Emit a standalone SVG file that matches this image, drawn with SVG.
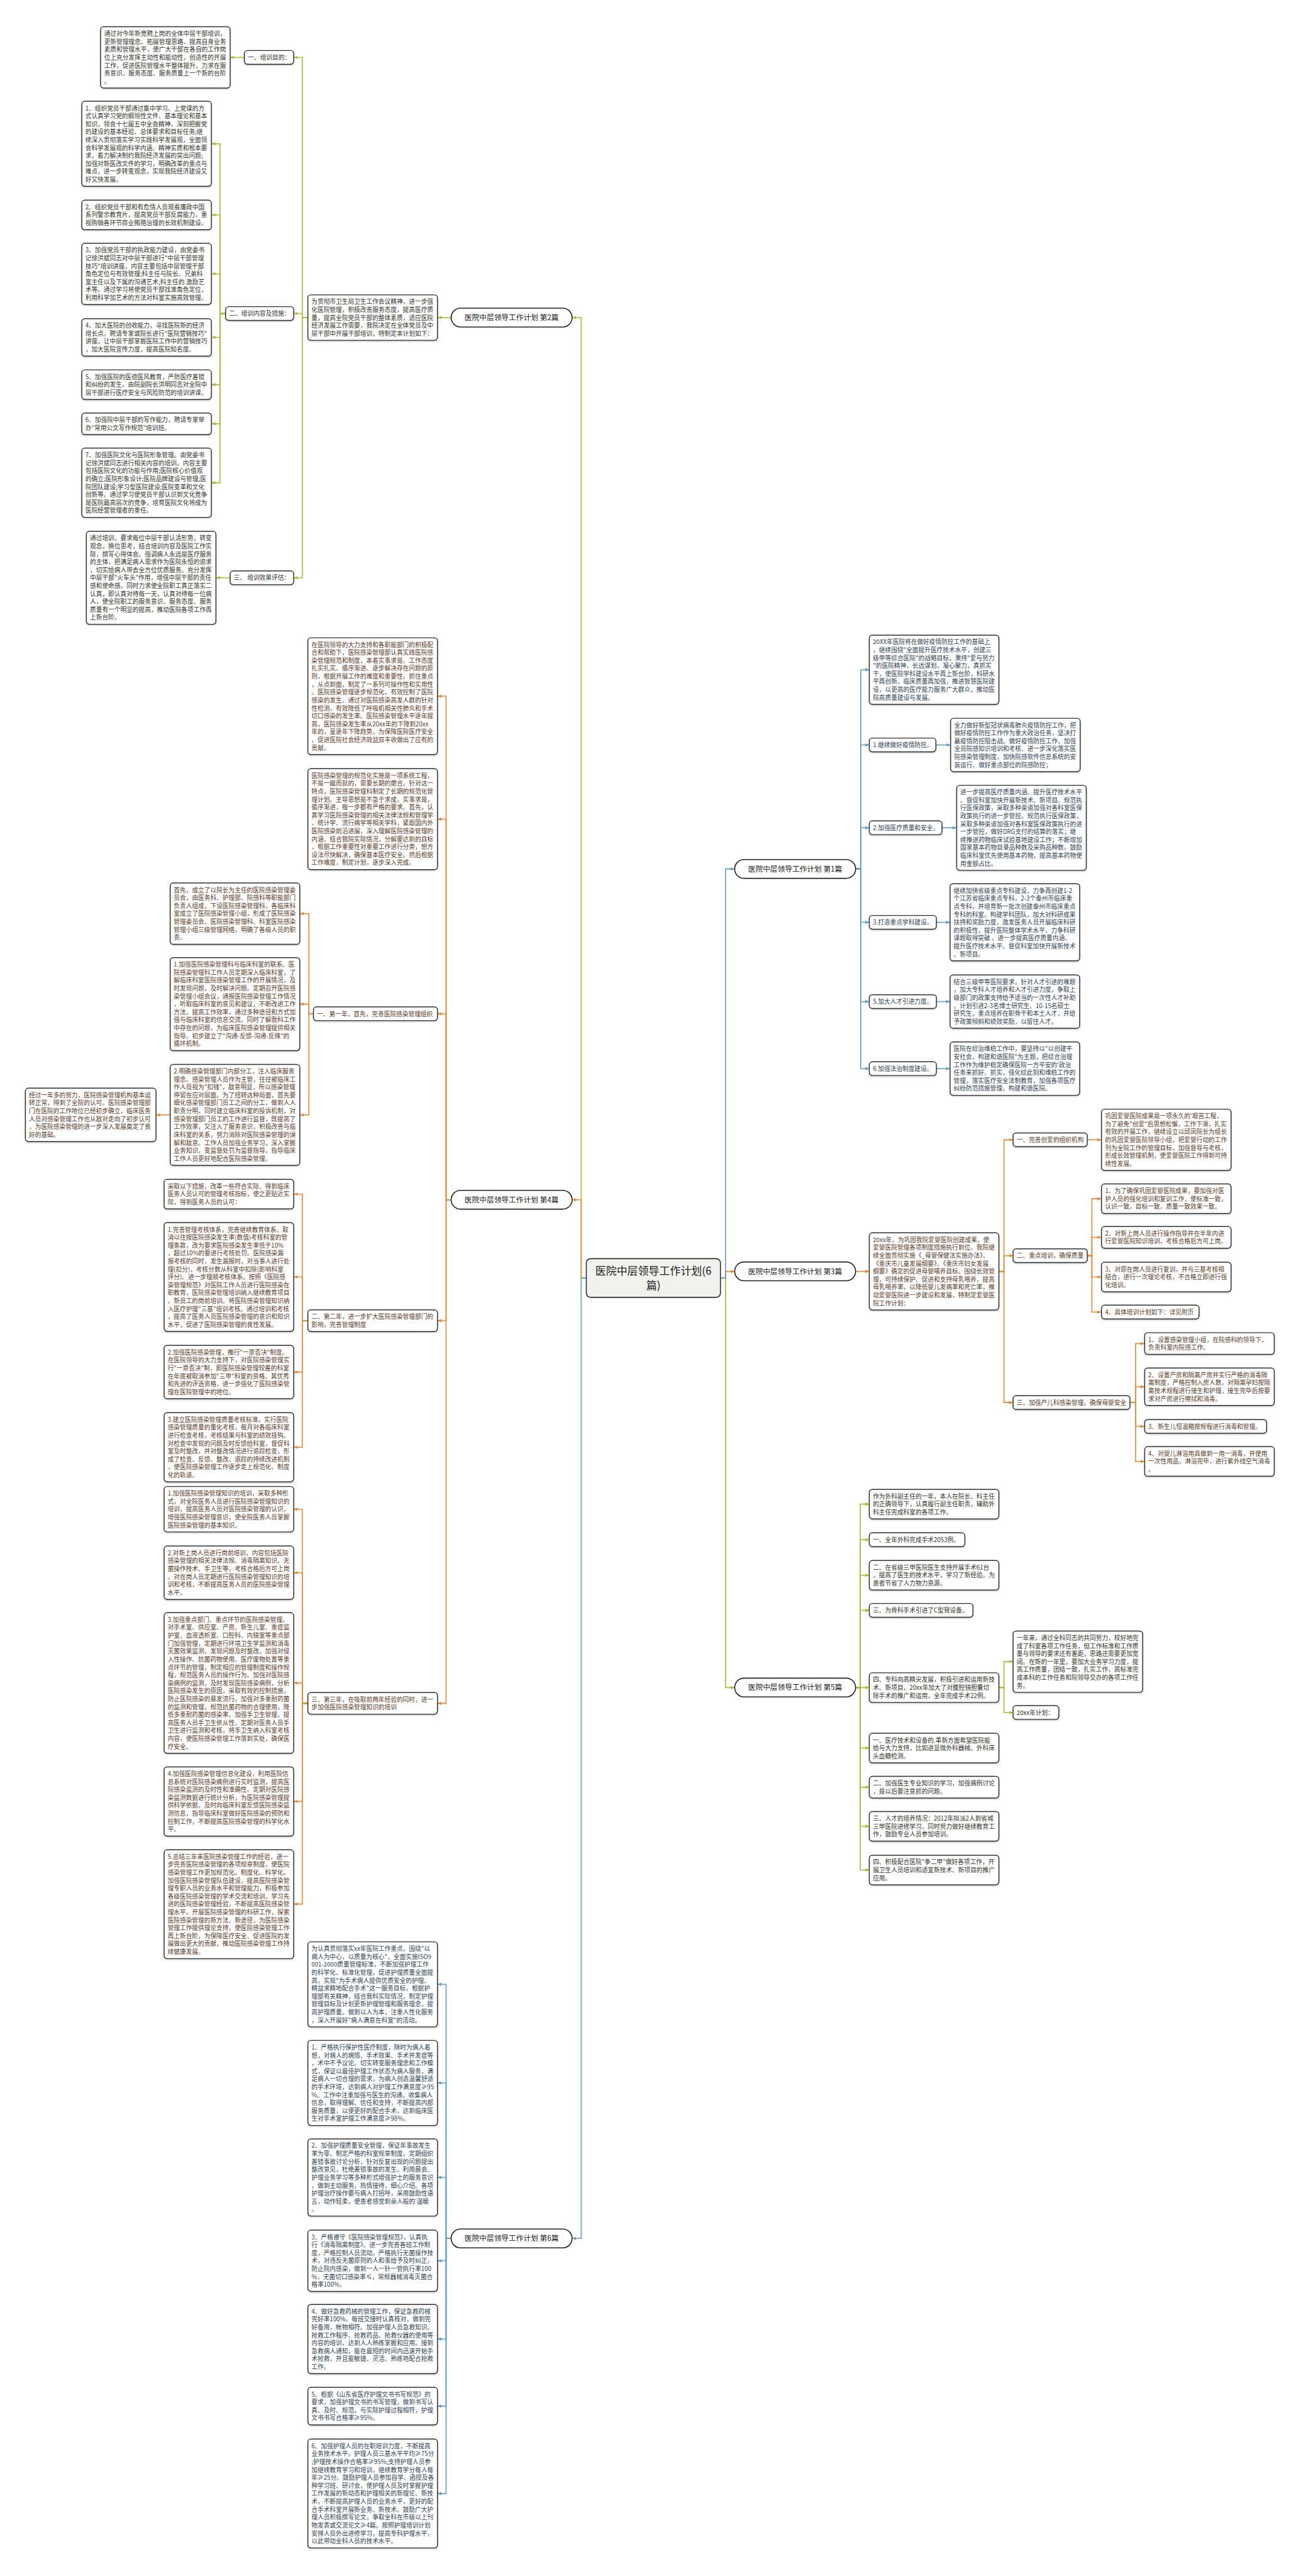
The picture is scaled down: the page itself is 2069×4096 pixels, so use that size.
<svg xmlns="http://www.w3.org/2000/svg" width="2069" height="4096" viewBox="0 0 2069 4096">
<defs>
<style>
.bx{fill:#fff;stroke:#333;stroke-width:1.8;filter:url(#sh)}
.nd{fill:#fff;stroke:#222;stroke-width:2}
.t{font-family:"Noto Sans CJK SC","Noto Sans",sans-serif;font-size:12px}
.c1{fill:#2f4252}
.c2{fill:#34342a}
.c3{fill:#5a3b1f}
.nt{font-family:"Noto Sans CJK SC","Noto Sans",sans-serif;font-size:14.5px;fill:#222;text-anchor:middle}
.ln{fill:none;stroke-width:2}
.lb{stroke:#5e9fc6}
.lg{stroke:#b0b92c}
.lo{stroke:#e98a2f}
</style>
<filter id="sh" x="-5%" y="-5%" width="110%" height="120%"><feDropShadow dx="0" dy="1.5" stdDeviation="1" flood-color="#000" flood-opacity="0.25"/></filter>
<marker id="ab" viewBox="0 0 10 10" refX="10" refY="5" markerWidth="8" markerHeight="8" markerUnits="userSpaceOnUse" orient="auto"><path d="M0,1L10,5L0,9z" fill="#5e9fc6"/></marker>
<marker id="ag" viewBox="0 0 10 10" refX="10" refY="5" markerWidth="8" markerHeight="8" markerUnits="userSpaceOnUse" orient="auto"><path d="M0,1L10,5L0,9z" fill="#b0b92c"/></marker>
<marker id="ao" viewBox="0 0 10 10" refX="10" refY="5" markerWidth="8" markerHeight="8" markerUnits="userSpaceOnUse" orient="auto"><path d="M0,1L10,5L0,9z" fill="#e98a2f"/></marker>
</defs>
<rect width="2069" height="4096" fill="#fff"/>
<g transform="scale(0.808)">
<g id="connectors">
<g class="ln lg" marker-end="url(#ag)">
<path d="M1154,2515H1144V625H1126"/>
<path d="M888,625H861"/>
<path d="M606,625H595V113H578"/>
<path d="M606,625H595V617H578"/>
<path d="M606,625H595V1137H578"/>
<path d="M481,113H453"/>
<path d="M444,617H433V283H416"/>
<path d="M444,617H433V423H416"/>
<path d="M444,617H433V539H416"/>
<path d="M444,617H433V664H416"/>
<path d="M444,617H433V757H416"/>
<path d="M444,617H433V834H416"/>
<path d="M444,617H433V950H416"/>
<path d="M453,1137H425"/>
<path d="M1418,2515H1428V3321H1446"/>
<path d="M1684,3321H1693V2960H1711"/>
<path d="M1684,3321H1693V3030H1711"/>
<path d="M1684,3321H1693V3100H1711"/>
<path d="M1684,3321H1693V3169H1711"/>
<path d="M1684,3321H1711"/>
<path d="M1684,3321H1693V3440H1711"/>
<path d="M1684,3321H1693V3517H1711"/>
<path d="M1684,3321H1693V3594H1711"/>
<path d="M1684,3321H1693V3680H1711"/>
<path d="M1966,3321H1976V3270H1994"/>
<path d="M1966,3321H1976V3370H1994"/>
</g>
<g class="ln lo" marker-end="url(#ao)">
<path d="M1154,2515H1144V2361H1126"/>
<path d="M888,2361H878V1370H861"/>
<path d="M888,2361H878V1612H861"/>
<path d="M888,2361H878V1995H861"/>
<path d="M888,2361H878V2599H861"/>
<path d="M888,2361H878V3352H861"/>
<path d="M617,1995H608V1798H590"/>
<path d="M617,1995H608V1976H590"/>
<path d="M617,1995H608V2194H590"/>
<path d="M335,2194H307"/>
<path d="M606,2599H595V2350H578"/>
<path d="M606,2599H595V2513H578"/>
<path d="M606,2599H595V2700H578"/>
<path d="M606,2599H595V2848H578"/>
<path d="M606,3352H595V2970H578"/>
<path d="M606,3352H595V3095H578"/>
<path d="M606,3352H595V3312H578"/>
<path d="M606,3352H595V3545H578"/>
<path d="M606,3352H595V3747H578"/>
<path d="M1418,2515H1428V2502H1446"/>
<path d="M1684,2502H1711"/>
<path d="M1966,2502H1976V2243H1994"/>
<path d="M1966,2502H1976V2471H1994"/>
<path d="M1966,2502H1976V2760H1994"/>
<path d="M2140,2243H2168"/>
<path d="M2140,2471H2149V2359H2168"/>
<path d="M2140,2471H2149V2435H2168"/>
<path d="M2140,2471H2149V2513H2168"/>
<path d="M2140,2471H2149V2582H2168"/>
<path d="M2224,2760H2235V2644H2253"/>
<path d="M2224,2760H2235V2729H2253"/>
<path d="M2224,2760H2235V2807H2253"/>
<path d="M2224,2760H2235V2876H2253"/>
</g>
<g class="ln lb" marker-end="url(#ab)">
<path d="M1154,2515H1144V4405H1126"/>
<path d="M888,4405H878V3905H861"/>
<path d="M888,4405H878V4099H861"/>
<path d="M888,4405H878V4285H861"/>
<path d="M888,4405H878V4449H861"/>
<path d="M888,4405H878V4603H861"/>
<path d="M888,4405H878V4735H861"/>
<path d="M888,4405H878V4907H861"/>
<path d="M1418,2515H1428V1710H1446"/>
<path d="M1684,1710H1694V1318H1711"/>
<path d="M1684,1710H1694V1466H1711"/>
<path d="M1684,1710H1694V1629H1711"/>
<path d="M1684,1710H1694V1815H1711"/>
<path d="M1684,1710H1694V1971H1711"/>
<path d="M1684,1710H1694V2103H1711"/>
<path d="M1842,1466H1871"/>
<path d="M1854,1629H1883"/>
<path d="M1843,1815H1870"/>
<path d="M1843,1971H1870"/>
<path d="M1843,2103H1870"/>
</g>
</g>

<g id="center"><rect x="1154" y="2477" width="264" height="76" rx="8" fill="#f1f1ed" stroke="#333" stroke-width="2"/><text font-family="Noto Sans CJK SC, Noto Sans, sans-serif" font-size="21" fill="#222" text-anchor="middle"><tspan x="1286" y="2509">医院中层领导工作计划(6</tspan><tspan x="1286" y="2537">篇)</tspan></text></g>

<g id="n1"><rect class="nd" x="1446" y="1691.5" width="238" height="37" rx="18.5"/><text class="nt" x="1565" y="1715">医院中层领导工作计划 第1篇</text></g>
<g id="n2"><rect class="nd" x="888" y="606.5" width="238" height="37" rx="18.5"/><text class="nt" x="1007" y="630">医院中层领导工作计划 第2篇</text></g>
<g id="n3"><rect class="nd" x="1446" y="2483.5" width="238" height="37" rx="18.5"/><text class="nt" x="1565" y="2507">医院中层领导工作计划 第3篇</text></g>
<g id="n4"><rect class="nd" x="888" y="2342.5" width="238" height="37" rx="18.5"/><text class="nt" x="1007" y="2366">医院中层领导工作计划 第4篇</text></g>
<g id="n5"><rect class="nd" x="1446" y="3302.5" width="238" height="37" rx="18.5"/><text class="nt" x="1565" y="3326">医院中层领导工作计划 第5篇</text></g>
<g id="n6"><rect class="nd" x="888" y="4386.5" width="238" height="37" rx="18.5"/><text class="nt" x="1007" y="4410">医院中层领导工作计划 第6篇</text></g>

<g id="t2"><rect class="bx" x="606" y="580.3" width="255" height="89.4" rx="6"/><text class="t c2"><tspan x="613" y="598.3">为贯彻市卫生局卫生工作会议精神，进一步强</tspan><tspan x="613" dy="15.6">化医院管理，积极改善服务态度，提高医疗质</tspan><tspan x="613" dy="15.6">量，提高全院党员干部的整体素质，适应医院</tspan><tspan x="613" dy="15.6">经济发展工作需要，我院决定在全体党员及中</tspan><tspan x="613" dy="15.6">层干部中开展干部培训，特制定本计划如下：</tspan></text></g>
<g id="l2-1"><rect class="bx" x="481" y="99.5" width="97" height="27" rx="6"/><text class="t c2" x="488" y="117.5">一、培训目的：</text></g>
<g id="l2-2"><rect class="bx" x="444" y="603.5" width="134" height="27" rx="6"/><text class="t c2" x="451" y="621.5">二、培训内容及措施：</text></g>
<g id="l2-3"><rect class="bx" x="453" y="1123.5" width="125" height="27" rx="6"/><text class="t c2" x="460" y="1141.5">三、 培训效果评估：</text></g>
<g id="a1"><rect class="bx" x="198" y="52.7" width="255" height="120.6" rx="6"/><text class="t c2"><tspan x="205" y="70.7">通过对今年新竞聘上岗的全体中层干部培训，</tspan><tspan x="205" dy="15.6">更新管理理念、拓展管理思路、提高自身业务</tspan><tspan x="205" dy="15.6">素质和管理水平，使广大干部在各自的工作岗</tspan><tspan x="205" dy="15.6">位上充分发挥主动性和能动性，创造性的开展</tspan><tspan x="205" dy="15.6">工作，促进医院管理水平整体提升，力求在服</tspan><tspan x="205" dy="15.6">务意识、服务态度、服务质量上一个新的台阶</tspan><tspan x="205" dy="15.6">。</tspan></text></g>
<g id="p1"><rect class="bx" x="161" y="199.3" width="255" height="167.4" rx="6"/><text class="t c2"><tspan x="168" y="217.3">1、组织党员干部通过集中学习、上党课的方</tspan><tspan x="168" dy="15.6">式认真学习党的纲领性文件、基本理论和基本</tspan><tspan x="168" dy="15.6">知识，领会十七届五中全会精神，深刻把握党</tspan><tspan x="168" dy="15.6">的建设的基本经验、总体要求和目标任务;继</tspan><tspan x="168" dy="15.6">续深入贯彻落实学习实践科学发展观，全面领</tspan><tspan x="168" dy="15.6">会科学发展观的科学内涵、精神实质和根本要</tspan><tspan x="168" dy="15.6">求，着力解决制约我院经济发展的突出问题;</tspan><tspan x="168" dy="15.6">加强对新医改文件的学习，明确改革的重点与</tspan><tspan x="168" dy="15.6">难点，进一步转变观念，实现我院经济建设又</tspan><tspan x="168" dy="15.6">好又快发展。</tspan></text></g>
<g id="p2"><rect class="bx" x="161" y="393.9" width="255" height="58.2" rx="6"/><text class="t c2"><tspan x="168" y="411.9">2、组织党员干部和有危情人员观看廉政中国</tspan><tspan x="168" dy="15.6">系列警示教育片，提高党员干部反腐能力，重</tspan><tspan x="168" dy="15.6">视购销各环节商业贿赂治理的长效机制建设。</tspan></text></g>
<g id="p3"><rect class="bx" x="161" y="478.7" width="255" height="120.6" rx="6"/><text class="t c2"><tspan x="168" y="496.7">3、加强党员干部的执政能力建设，由党委书</tspan><tspan x="168" dy="15.6">记徐洪斌同志对中层干部进行"中层干部管理</tspan><tspan x="168" dy="15.6">技巧"培训讲座，内容主要包括中层管理干部</tspan><tspan x="168" dy="15.6">角色定位与有效管理;科主任与院长、兄弟科</tspan><tspan x="168" dy="15.6">室主任以及下属的沟通艺术;科主任的.激励艺</tspan><tspan x="168" dy="15.6">术等。通过学习将使党员干部找准角色定位，</tspan><tspan x="168" dy="15.6">利用科学加艺术的方法对科室实施高效管理。</tspan></text></g>
<g id="p4"><rect class="bx" x="161" y="627.1" width="255" height="73.8" rx="6"/><text class="t c2"><tspan x="168" y="645.1">4、加大医院的创收能力，寻找医院新的经济</tspan><tspan x="168" dy="15.6">增长点。聘请专家或院长进行"医院营销技巧"</tspan><tspan x="168" dy="15.6">讲座，让中层干部掌握医院工作中的营销技巧</tspan><tspan x="168" dy="15.6">，加大医院宣传力度，提高医院知名度。</tspan></text></g>
<g id="p5"><rect class="bx" x="161" y="727.9" width="255" height="58.2" rx="6"/><text class="t c2"><tspan x="168" y="745.9">5、加强医院的医德医风教育，严防医疗差错</tspan><tspan x="168" dy="15.6">和纠纷的发生，由院副院长洪明同志对全院中</tspan><tspan x="168" dy="15.6">层干部进行医疗安全与风险防范的培训讲课。</tspan></text></g>
<g id="p6"><rect class="bx" x="161" y="812.7" width="255" height="42.6" rx="6"/><text class="t c2"><tspan x="168" y="830.7">6、加强院中层干部的写作能力，聘请专家举</tspan><tspan x="168" dy="15.6">办"常用公文写作规范"培训班。</tspan></text></g>
<g id="p7"><rect class="bx" x="161" y="881.9" width="255" height="136.2" rx="6"/><text class="t c2"><tspan x="168" y="899.9">7、加强医院文化与医院形象管理。由党委书</tspan><tspan x="168" dy="15.6">记徐洪斌同志进行相关内容的培训。内容主要</tspan><tspan x="168" dy="15.6">包括医院文化的功能与作用;医院核心价值观</tspan><tspan x="168" dy="15.6">的确立;医院形象设计;医院品牌建设与管理;医</tspan><tspan x="168" dy="15.6">院团队建设;学习型医院建设;医院变革和文化</tspan><tspan x="168" dy="15.6">创新等。通过学习使党员干部认识到文化竞争</tspan><tspan x="168" dy="15.6">是医院最高层次的竞争，培育医院文化将成为</tspan><tspan x="168" dy="15.6">医院经营管理者的重任。</tspan></text></g>
<g id="p8"><rect class="bx" x="170" y="1045.5" width="255" height="183" rx="6"/><text class="t c2"><tspan x="177" y="1063.5">通过培训，要求每位中层干部认清形势，转变</tspan><tspan x="177" dy="15.6">观念，换位思考，结合培训内容及医院工作实</tspan><tspan x="177" dy="15.6">际，撰写心得体会。强调病人永远是医疗服务</tspan><tspan x="177" dy="15.6">的主体，把满足病人需求作为医院永恒的追求</tspan><tspan x="177" dy="15.6">，切实给病人带去全方位优质服务。充分发挥</tspan><tspan x="177" dy="15.6">中层干部"火车头"作用，增强中层干部的责任</tspan><tspan x="177" dy="15.6">感和使命感。同时力求使全院职工真正落实二</tspan><tspan x="177" dy="15.6">认真，即认真对待每一天，认真对待每一位病</tspan><tspan x="177" dy="15.6">人，使全院职工的服务意识、服务态度、服务</tspan><tspan x="177" dy="15.6">质量有一个明显的提高，推动医院各项工作再</tspan><tspan x="177" dy="15.6">上新台阶。</tspan></text></g>

<g id="b1"><rect class="bx" x="606" y="1255.1" width="255" height="229.8" rx="6"/><text class="t c3"><tspan x="613" y="1273.1">在医院领导的大力支持和各职能部门的积极配</tspan><tspan x="613" dy="15.6">合和帮助下，医院感染管理部认真实践医院感</tspan><tspan x="613" dy="15.6">染管理规范和制度，本着实事求是、工作态度</tspan><tspan x="613" dy="15.6">扎实扎实、循序渐进、逐步解决存在问题的原</tspan><tspan x="613" dy="15.6">则，根据开展工作的难度和重要性，抓住重点</tspan><tspan x="613" dy="15.6">，从点到面，制定了一系列可操作性和实用性</tspan><tspan x="613" dy="15.6">。医院感染管理逐步规范化，有效控制了医院</tspan><tspan x="613" dy="15.6">感染的发生。通过对医院感染高发人群的针对</tspan><tspan x="613" dy="15.6">性检测，有效降低了呼吸机相关性肺炎和手术</tspan><tspan x="613" dy="15.6">切口感染的发生率。医院感染管理水平逐年提</tspan><tspan x="613" dy="15.6">高，医院感染发生率从20xx年的下降到20xx</tspan><tspan x="613" dy="15.6">年的，呈逐年下降趋势，为保障医院医疗安全</tspan><tspan x="613" dy="15.6">、促进医院社会经济效益双丰收做出了应有的</tspan><tspan x="613" dy="15.6">贡献。</tspan></text></g>
<g id="b2"><rect class="bx" x="606" y="1512.7" width="255" height="198.6" rx="6"/><text class="t c3"><tspan x="613" y="1530.7">医院感染管理的规范化实施是一项系统工程，</tspan><tspan x="613" dy="15.6">不是一蹴而就的，需要长期的磨合。针对这一</tspan><tspan x="613" dy="15.6">特点，医院感染管理科制定了长期的规范化管</tspan><tspan x="613" dy="15.6">理计划。主导思想是不急于求成，实事求是，</tspan><tspan x="613" dy="15.6">循序渐进，每一步都有严格的要求。首先，认</tspan><tspan x="613" dy="15.6">真学习医院感染管理的相关法律法规和管理学</tspan><tspan x="613" dy="15.6">、统计学、流行病学等相关学科，紧跟国内外</tspan><tspan x="613" dy="15.6">医院感染前沿进展，深入理解医院感染管理的</tspan><tspan x="613" dy="15.6">内涵，结合我院实际情况，分解要达到的目标</tspan><tspan x="613" dy="15.6">，根据工作重要性对重要工作进行分类，想方</tspan><tspan x="613" dy="15.6">设法尽快解决，确保基本医疗安全。然后根据</tspan><tspan x="613" dy="15.6">工作难度，制定计划，逐步深入完成。</tspan></text></g>
<g id="l4-1"><rect class="bx" x="617" y="1981.5" width="244" height="27" rx="6"/><text class="t c3" x="624" y="1999.5">一、第一年，首先，完善医院感染管理组织</text></g>
<g id="l4-2"><rect class="bx" x="606" y="2577.7" width="255" height="42.6" rx="6"/><text class="t c3"><tspan x="613" y="2595.7">二、第二年，进一步扩大医院感染管理部门的</tspan><tspan x="613" dy="15.6">影响，完善管理制度</tspan></text></g>
<g id="l4-3"><rect class="bx" x="606" y="3330.7" width="255" height="42.6" rx="6"/><text class="t c3"><tspan x="613" y="3348.7">三、第三年，在吸取前两年经验的同时，进一</tspan><tspan x="613" dy="15.6">步加强医院感染管理知识的培训</tspan></text></g>
<g id="d1"><rect class="bx" x="335" y="1737.7" width="255" height="120.6" rx="6"/><text class="t c3"><tspan x="342" y="1755.7">首先，成立了以院长为主任的医院感染管理委</tspan><tspan x="342" dy="15.6">员会，由医务科、护理部、院感科等职能部门</tspan><tspan x="342" dy="15.6">负责人组成，下设医院感染管理科，各临床科</tspan><tspan x="342" dy="15.6">室成立了医院感染管理小组，形成了医院感染</tspan><tspan x="342" dy="15.6">管理委员会、医院感染管理科、科室医院感染</tspan><tspan x="342" dy="15.6">管理小组三级管理网络，明确了各级人员的职</tspan><tspan x="342" dy="15.6">责。</tspan></text></g>
<g id="d2"><rect class="bx" x="335" y="1884.5" width="255" height="183" rx="6"/><text class="t c3"><tspan x="342" y="1902.5">1.加强医院感染管理科与临床科室的联系。医</tspan><tspan x="342" dy="15.6">院感染管理科工作人员定期深入临床科室，了</tspan><tspan x="342" dy="15.6">解临床科室医院感染管理工作的开展情况，及</tspan><tspan x="342" dy="15.6">时发现问题，及时解决问题。定期召开医院感</tspan><tspan x="342" dy="15.6">染管理小组会议，通报医院感染管理工作情况</tspan><tspan x="342" dy="15.6">，听取临床科室的意见和建议，不断改进工作</tspan><tspan x="342" dy="15.6">方法，提高工作效率，通过多种途径和方式加</tspan><tspan x="342" dy="15.6">强与临床科室的信息交流。同时了解我科工作</tspan><tspan x="342" dy="15.6">中存在的问题，为临床医院感染管理提供相关</tspan><tspan x="342" dy="15.6">指导。初步建立了"沟通-反馈-沟通-反辣"的</tspan><tspan x="342" dy="15.6">循环机制。</tspan></text></g>
<g id="d3"><rect class="bx" x="335" y="2094.7" width="255" height="198.6" rx="6"/><text class="t c3"><tspan x="342" y="2112.7">2.明确感染管理部门内部分工，注入临床服务</tspan><tspan x="342" dy="15.6">理念。感染管理人员作为主管，往往被临床工</tspan><tspan x="342" dy="15.6">作人员视为"扣钱"，敌意明显，所以感染管理</tspan><tspan x="342" dy="15.6">停留在应对层面。为了扭转这种局面，首先要</tspan><tspan x="342" dy="15.6">细化感染管理部门员工之间的分工，做到人人</tspan><tspan x="342" dy="15.6">职责分明，同时建立临床科室的投诉机制，对</tspan><tspan x="342" dy="15.6">感染管理部门员工的工作进行监督，既提高了</tspan><tspan x="342" dy="15.6">工作效率，又注入了服务意识，积极改善与临</tspan><tspan x="342" dy="15.6">床科室的关系，努力消除对医院感染管理的误</tspan><tspan x="342" dy="15.6">解和敌意。工作人员加强业务学习，深入掌握</tspan><tspan x="342" dy="15.6">业务知识，变监督处罚为监督指导。指导临床</tspan><tspan x="342" dy="15.6">工作人员更好地配合医院感染管理。</tspan></text></g>
<g id="e1"><rect class="bx" x="50" y="2141.5" width="257" height="105" rx="6"/><text class="t c3"><tspan x="57" y="2159.5">经过一年多的努力，医院感染管理机构基本运</tspan><tspan x="57" dy="15.6">转正常，得到了全院的认可。医院感染管理部</tspan><tspan x="57" dy="15.6">门在医院的工作地位已经初步确立，临床医务</tspan><tspan x="57" dy="15.6">人员对感染管理工作也从敌对走向了初步认可</tspan><tspan x="57" dy="15.6">，为医院感染管理的进一步深入发展奠定了良</tspan><tspan x="57" dy="15.6">好的基础。</tspan></text></g>
<g id="f1"><rect class="bx" x="323" y="2320.9" width="255" height="58.2" rx="6"/><text class="t c3"><tspan x="330" y="2338.9">采取以下措施，改革一些符合实际、得到临床</tspan><tspan x="330" dy="15.6">医务人员认可的管理考核指标，使之更贴近实</tspan><tspan x="330" dy="15.6">际，得到医务人员的认可：</tspan></text></g>
<g id="f2"><rect class="bx" x="323" y="2405.9" width="255" height="214.2" rx="6"/><text class="t c3"><tspan x="330" y="2423.9">1.完善管理考核体系，完善继续教育体系。取</tspan><tspan x="330" dy="15.6">消以往按医院感染发生率(数值)考核科室的管</tspan><tspan x="330" dy="15.6">理条款，改为要求医院感染发生率低于10%</tspan><tspan x="330" dy="15.6">，超过10%的要进行考核处罚。医院感染漏</tspan><tspan x="330" dy="15.6">报考核的同时，发生漏报时，对当事人进行处</tspan><tspan x="330" dy="15.6">理(扣分)，考核分数从科室中扣除(影响科室</tspan><tspan x="330" dy="15.6">评分)。进一步理顺考核体系。按照《医院感</tspan><tspan x="330" dy="15.6">染管理规范》对医院工作人员进行医院感染在</tspan><tspan x="330" dy="15.6">职教育，医院感染管理培训纳入继续教育项目</tspan><tspan x="330" dy="15.6">。新员工的岗前培训。将医院感染管理知识纳</tspan><tspan x="330" dy="15.6">入医疗护理"三基"培训考核。通过培训和考核</tspan><tspan x="330" dy="15.6">，提高了医务人员医院感染管理的意识和知识</tspan><tspan x="330" dy="15.6">水平，促进了医院感染管理的良性发展。</tspan></text></g>
<g id="f3"><rect class="bx" x="323" y="2647.5" width="255" height="105" rx="6"/><text class="t c3"><tspan x="330" y="2665.5">2.加强医院感染管理，推行"一票否决"制度。</tspan><tspan x="330" dy="15.6">在医院领导的大力支持下，对医院感染管理实</tspan><tspan x="330" dy="15.6">行"一票否决"制，即医院感染管理较差的科室</tspan><tspan x="330" dy="15.6">在年底被取消参加"三甲"科室的资格，其优秀</tspan><tspan x="330" dy="15.6">和先进的评选资格，进一步强化了医院感染管</tspan><tspan x="330" dy="15.6">理在医院管理中的地位。</tspan></text></g>
<g id="f4"><rect class="bx" x="323" y="2779.9" width="255" height="136.2" rx="6"/><text class="t c3"><tspan x="330" y="2797.9">3.建立医院感染管理质量考核标准，实行医院</tspan><tspan x="330" dy="15.6">感染管理质量的量化考核，每月对各临床科室</tspan><tspan x="330" dy="15.6">进行检查考核，考核结果与科室的绩效挂钩。</tspan><tspan x="330" dy="15.6">对检查中发现的问题及时反馈给科室，督促科</tspan><tspan x="330" dy="15.6">室及时整改，并对整改情况进行追踪检查，形</tspan><tspan x="330" dy="15.6">成了检查、反馈、整改、追踪的持续改进机制</tspan><tspan x="330" dy="15.6">，使医院感染管理工作逐步走上规范化、制度</tspan><tspan x="330" dy="15.6">化的轨道。</tspan></text></g>
<g id="g1"><rect class="bx" x="323" y="2925.3" width="255" height="89.4" rx="6"/><text class="t c3"><tspan x="330" y="2943.3">1.加强医院感染管理知识的培训，采取多种形</tspan><tspan x="330" dy="15.6">式，对全院医务人员进行医院感染管理知识的</tspan><tspan x="330" dy="15.6">培训，提高医务人员对医院感染管理的认识，</tspan><tspan x="330" dy="15.6">增强医院感染管理意识，使全院医务人员掌握</tspan><tspan x="330" dy="15.6">医院感染管理的基本知识。</tspan></text></g>
<g id="g2"><rect class="bx" x="323" y="3042.5" width="255" height="105" rx="6"/><text class="t c3"><tspan x="330" y="3060.5">2.对新上岗人员进行岗前培训，内容包括医院</tspan><tspan x="330" dy="15.6">感染管理的相关法律法规、消毒隔离知识、无</tspan><tspan x="330" dy="15.6">菌操作技术、手卫生等，考核合格后方可上岗</tspan><tspan x="330" dy="15.6">。对在岗人员定期进行医院感染管理知识的培</tspan><tspan x="330" dy="15.6">训和考核，不断提高医务人员的医院感染管理</tspan><tspan x="330" dy="15.6">水平。</tspan></text></g>
<g id="g3"><rect class="bx" x="323" y="3173.7" width="255" height="276.6" rx="6"/><text class="t c3"><tspan x="330" y="3191.7">3.加强重点部门、重点环节的医院感染管理。</tspan><tspan x="330" dy="15.6">对手术室、供应室、产房、新生儿室、重症监</tspan><tspan x="330" dy="15.6">护室、血液透析室、口腔科、内镜室等重点部</tspan><tspan x="330" dy="15.6">门加强管理，定期进行环境卫生学监测和消毒</tspan><tspan x="330" dy="15.6">灭菌效果监测，发现问题及时整改。加强对侵</tspan><tspan x="330" dy="15.6">入性操作、抗菌药物使用、医疗废物处置等重</tspan><tspan x="330" dy="15.6">点环节的管理，制定相应的管理制度和操作规</tspan><tspan x="330" dy="15.6">程，规范医务人员的操作行为。加强对医院感</tspan><tspan x="330" dy="15.6">染病例的监测，及时发现医院感染病例，分析</tspan><tspan x="330" dy="15.6">医院感染发生的原因，采取有效的控制措施，</tspan><tspan x="330" dy="15.6">防止医院感染的暴发流行。加强对多重耐药菌</tspan><tspan x="330" dy="15.6">的监测和管理，规范抗菌药物的合理使用，降</tspan><tspan x="330" dy="15.6">低多重耐药菌的感染率。加强手卫生管理，提</tspan><tspan x="330" dy="15.6">高医务人员手卫生依从性，定期对医务人员手</tspan><tspan x="330" dy="15.6">卫生进行监测和考核，将手卫生纳入科室考核</tspan><tspan x="330" dy="15.6">内容，使医院感染管理工作落到实处，确保医</tspan><tspan x="330" dy="15.6">疗安全。</tspan></text></g>
<g id="g4"><rect class="bx" x="323" y="3477" width="255" height="136.2" rx="6"/><text class="t c3"><tspan x="330" y="3495">4.加强医院感染管理信息化建设，利用医院信</tspan><tspan x="330" dy="15.6">息系统对医院感染病例进行实时监测，提高医</tspan><tspan x="330" dy="15.6">院感染监测的及时性和准确性。定期对医院感</tspan><tspan x="330" dy="15.6">染监测数据进行统计分析，为医院感染管理提</tspan><tspan x="330" dy="15.6">供科学依据，及时向临床科室反馈医院感染监</tspan><tspan x="330" dy="15.6">测信息，指导临床科室做好医院感染的预防和</tspan><tspan x="330" dy="15.6">控制工作，不断提高医院感染管理的科学化水</tspan><tspan x="330" dy="15.6">平。</tspan></text></g>
<g id="g5"><rect class="bx" x="323" y="3640.2" width="255" height="214.2" rx="6"/><text class="t c3"><tspan x="330" y="3658.2">5.总结三年来医院感染管理工作的经验，进一</tspan><tspan x="330" dy="15.6">步完善医院感染管理的各项规章制度，使医院</tspan><tspan x="330" dy="15.6">感染管理工作更加规范化、制度化、科学化。</tspan><tspan x="330" dy="15.6">加强医院感染管理队伍建设，提高医院感染管</tspan><tspan x="330" dy="15.6">理专职人员的业务水平和管理能力，积极参加</tspan><tspan x="330" dy="15.6">各级医院感染管理的学术交流和培训，学习先</tspan><tspan x="330" dy="15.6">进的医院感染管理经验，不断提高医院感染管</tspan><tspan x="330" dy="15.6">理水平。开展医院感染管理的科研工作，探索</tspan><tspan x="330" dy="15.6">医院感染管理的新方法、新途径，为医院感染</tspan><tspan x="330" dy="15.6">管理工作提供理论支持，使医院感染管理工作</tspan><tspan x="330" dy="15.6">再上新台阶，为保障医疗安全、促进医院的发</tspan><tspan x="330" dy="15.6">展做出更大的贡献，推动医院感染管理工作持</tspan><tspan x="330" dy="15.6">续健康发展。</tspan></text></g>

<g id="c1"><rect class="bx" x="606" y="3821.3" width="255" height="167.4" rx="6"/><text class="t c1"><tspan x="613" y="3839.3">为认真贯彻落实xx年医院工作重点，围绕"以</tspan><tspan x="613" dy="15.6">病人为中心，以质量为核心"，全面实施ISO9</tspan><tspan x="613" dy="15.6">001-2000质量管理标准，不断加强护理工作</tspan><tspan x="613" dy="15.6">的科学化、标准化管理，促进护理质量全面提</tspan><tspan x="613" dy="15.6">高，实现"为手术病人提供优质安全的护理、</tspan><tspan x="613" dy="15.6">精益求精地配合手术"这一服务目标，根据护</tspan><tspan x="613" dy="15.6">理部有关精神，结合我科实际情况，制定护理</tspan><tspan x="613" dy="15.6">管理目标及计划更新护理管理和服务理念，提</tspan><tspan x="613" dy="15.6">高护理质量。做到以人为本，注重人性化服务</tspan><tspan x="613" dy="15.6">，深入开展好"病人满意在科室"的活动。</tspan></text></g>
<g id="c2"><rect class="bx" x="606" y="4015.3" width="255" height="167.4" rx="6"/><text class="t c1"><tspan x="613" y="4033.3">1、严格执行保护性医疗制度，随时为病人着</tspan><tspan x="613" dy="15.6">想，对病人的病情、手术效果、手术并发症等</tspan><tspan x="613" dy="15.6">，术中不予议论。切实转变服务理念和工作模</tspan><tspan x="613" dy="15.6">式，保证以最佳护理工作状态为病人服务，满</tspan><tspan x="613" dy="15.6">足病人一切合理的需求，为病人创造温馨舒适</tspan><tspan x="613" dy="15.6">的手术环境，达到病人对护理工作满意度≥95</tspan><tspan x="613" dy="15.6">%。工作中注重加强与医生的沟通，收集病人</tspan><tspan x="613" dy="15.6">信息，取得理解、信任和支持，不断提高内部</tspan><tspan x="613" dy="15.6">服务质量，以便更好的配合手术，达到临床医</tspan><tspan x="613" dy="15.6">生对手术室护理工作满意度≥98%。</tspan></text></g>
<g id="c3"><rect class="bx" x="606" y="4209.1" width="255" height="151.8" rx="6"/><text class="t c1"><tspan x="613" y="4227.1">2、加强护理质量安全管理，保证年事故发生</tspan><tspan x="613" dy="15.6">率为零。制定严格的科室规章制度，定期组织</tspan><tspan x="613" dy="15.6">差错事故讨论分析，针对反复出现的问题提出</tspan><tspan x="613" dy="15.6">整改意见，杜绝差错事故的发生。利用晨会、</tspan><tspan x="613" dy="15.6">护理业务学习等多种形式增强护士的服务意识</tspan><tspan x="613" dy="15.6">，做到主动服务，热情接待，细心介绍。各项</tspan><tspan x="613" dy="15.6">护理治疗操作要与病人打招呼，采用鼓励性语</tspan><tspan x="613" dy="15.6">言，动作轻柔，使患者感觉到亲人般的'温暖</tspan><tspan x="613" dy="15.6">。</tspan></text></g>
<g id="c4"><rect class="bx" x="606" y="4388.7" width="255" height="120.6" rx="6"/><text class="t c1"><tspan x="613" y="4406.7">3、严格遵守《医院感染管理规范》，认真执</tspan><tspan x="613" dy="15.6">行《消毒隔离制度》。进一步完善各班工作制</tspan><tspan x="613" dy="15.6">度，严格控制人员流动。严格执行无菌操作技</tspan><tspan x="613" dy="15.6">术，对违反无菌原则的人和事给予及时纠正，</tspan><tspan x="613" dy="15.6">防止院内感染，做到一人一针一管执行率100</tspan><tspan x="613" dy="15.6">%，无菌切口感染率≤，常规器械消毒灭菌合</tspan><tspan x="613" dy="15.6">格率100%。</tspan></text></g>
<g id="c5"><rect class="bx" x="606" y="4534.9" width="255" height="136.2" rx="6"/><text class="t c1"><tspan x="613" y="4552.9">4、做好急救药械的管理工作，保证急救药械</tspan><tspan x="613" dy="15.6">完好率100%。每班交接时认真核对，做到完</tspan><tspan x="613" dy="15.6">好备用，帐物相符。加强护理人员急救知识、</tspan><tspan x="613" dy="15.6">抢救工作程序、抢救药品、抢救仪器的使用等</tspan><tspan x="613" dy="15.6">内容的培训，达到人人熟练掌握和应用。接到</tspan><tspan x="613" dy="15.6">急救病人通知，能在最短的时间内迅速开始手</tspan><tspan x="613" dy="15.6">术抢救，并且能敏捷、灵活、熟练地配合抢救</tspan><tspan x="613" dy="15.6">工作。</tspan></text></g>
<g id="c6"><rect class="bx" x="606" y="4698.1" width="255" height="73.8" rx="6"/><text class="t c1"><tspan x="613" y="4716.1">5、根据《山东省医疗护理文书书写规范》的</tspan><tspan x="613" dy="15.6">要求，加强护理文书的书写管理，做到书写认</tspan><tspan x="613" dy="15.6">真、及时、规范，与实际护理过程相符，护理</tspan><tspan x="613" dy="15.6">文书书写合格率≥95%。</tspan></text></g>
<g id="c7"><rect class="bx" x="606" y="4799.9" width="255" height="214.2" rx="6"/><text class="t c1"><tspan x="613" y="4817.9">6、加强护理人员的在职培训力度，不断提高</tspan><tspan x="613" dy="15.6">业务技术水平。护理人员三基水平平均≥75分</tspan><tspan x="613" dy="15.6">;护理技术操作合格率≥95%;支持护理人员参</tspan><tspan x="613" dy="15.6">加继续教育学习和培训，继续教育学分每人每</tspan><tspan x="613" dy="15.6">年≥25分。鼓励护理人员参加自学、函授及各</tspan><tspan x="613" dy="15.6">种学习班、研讨会，使护理人员及时掌握护理</tspan><tspan x="613" dy="15.6">工作发展的新动态和护理相关的新理论、新技</tspan><tspan x="613" dy="15.6">术，不断提高护理人员的业务水平，更好的配</tspan><tspan x="613" dy="15.6">合手术科室开展新业务、新技术。鼓励广大护</tspan><tspan x="613" dy="15.6">理人员积极撰写论文，争取全科在市级以上刊</tspan><tspan x="613" dy="15.6">物发表或交流论文≥4篇。按照护理培训计划</tspan><tspan x="613" dy="15.6">安排人员外出进修学习，提高专科护理水平，</tspan><tspan x="613" dy="15.6">以此带动全科人员的技术水平。</tspan></text></g>

<g id="k0"><rect class="bx" x="1711" y="1249.9" width="255" height="136.2" rx="6"/><text class="t c1"><tspan x="1718" y="1267.9">20XX年医院将在做好疫情防控工作的基础上</tspan><tspan x="1718" dy="15.6">，继续围绕"全面提升医疗技术水平，创建三</tspan><tspan x="1718" dy="15.6">级甲等综合医院"的战略目标，秉持"爱与努力</tspan><tspan x="1718" dy="15.6">"的医院精神，长远谋划，凝心聚力，真抓实</tspan><tspan x="1718" dy="15.6">干，使医院学科建设水平再上新台阶，科研水</tspan><tspan x="1718" dy="15.6">平再创新，临床质量再加强，推进智慧医院建</tspan><tspan x="1718" dy="15.6">设，以更高的医疗能力服务广大群众，推动医</tspan><tspan x="1718" dy="15.6">院高质量建设与发展。</tspan></text></g>
<g id="l1-1"><rect class="bx" x="1711" y="1452.5" width="131" height="27" rx="6"/><text class="t c1" x="1718" y="1470.5">1.继续做好疫情防控。</text></g>
<g id="k1"><rect class="bx" x="1871" y="1413.5" width="255" height="105" rx="6"/><text class="t c1"><tspan x="1878" y="1431.5">全力做好新型冠状病毒肺炎疫情防控工作，把</tspan><tspan x="1878" dy="15.6">做好疫情防控工作作为重大政治任务，坚决打</tspan><tspan x="1878" dy="15.6">赢疫情防控阻击战。做好疫情防控工作，加强</tspan><tspan x="1878" dy="15.6">全员院感知识培训和考核、进一步深化落实医</tspan><tspan x="1878" dy="15.6">院感染管理制度、加快院感软件信息系统的安</tspan><tspan x="1878" dy="15.6">装运行、做好重点部位的院感防控；</tspan></text></g>
<g id="l1-2"><rect class="bx" x="1711" y="1615.5" width="143" height="27" rx="6"/><text class="t c1" x="1718" y="1633.5">2.加强医疗质量和安全。</text></g>
<g id="k2"><rect class="bx" x="1883" y="1545.3" width="255" height="167.4" rx="6"/><text class="t c1"><tspan x="1890" y="1563.3">进一步提高医疗质量内涵、提升医疗技术水平</tspan><tspan x="1890" dy="15.6">。督促科室加快开展新技术、新项目。规范执</tspan><tspan x="1890" dy="15.6">行医保政策，采取多种渠道加强对各科室医保</tspan><tspan x="1890" dy="15.6">政策执行的进一步管控。规范执行医保政策，</tspan><tspan x="1890" dy="15.6">采取多种渠道加强对各科室医保政策执行的进</tspan><tspan x="1890" dy="15.6">一步管控，做好DRG支付的结算的落实；继</tspan><tspan x="1890" dy="15.6">续推进药物临床试验基地建设工作；不断增加</tspan><tspan x="1890" dy="15.6">国家基本药物目录品种数及采购品种数，鼓励</tspan><tspan x="1890" dy="15.6">临床科室优先使用基本药物，提高基本药物使</tspan><tspan x="1890" dy="15.6">用金额占比。</tspan></text></g>
<g id="l1-3"><rect class="bx" x="1711" y="1801.5" width="132" height="27" rx="6"/><text class="t c1" x="1718" y="1819.5">3.打造重点学科建设。</text></g>
<g id="k3"><rect class="bx" x="1870" y="1739.1" width="255" height="151.8" rx="6"/><text class="t c1"><tspan x="1877" y="1757.1">继续加快省级重点专科建设，力争再创建1-2</tspan><tspan x="1877" dy="15.6">个江苏省临床重点专科，2-3个泰州市临床重</tspan><tspan x="1877" dy="15.6">点专科，并培育新一批次创建泰州市临床重点</tspan><tspan x="1877" dy="15.6">专科的科室。构建学科团队，加大对科研成果</tspan><tspan x="1877" dy="15.6">扶持和奖励力度，激发医务人员开展临床科研</tspan><tspan x="1877" dy="15.6">的积极性，提升医院整体学术水平，力争科研</tspan><tspan x="1877" dy="15.6">课题取得突破 。进一步提高医疗质量内涵、</tspan><tspan x="1877" dy="15.6">提升医疗技术水平。督促科室加快开展新技术</tspan><tspan x="1877" dy="15.6">、新项目。</tspan></text></g>
<g id="l1-5"><rect class="bx" x="1711" y="1957.5" width="132" height="27" rx="6"/><text class="t c1" x="1718" y="1975.5">5.加大人才引进力度。</text></g>
<g id="k5"><rect class="bx" x="1870" y="1918.5" width="255" height="105" rx="6"/><text class="t c1"><tspan x="1877" y="1936.5">结合三级甲等医院要求，针对人才引进的难题</tspan><tspan x="1877" dy="15.6">，加大专科人才培养和人才引进力度，争取上</tspan><tspan x="1877" dy="15.6">级部门的政策支持给予适当的一次性人才补助</tspan><tspan x="1877" dy="15.6">。计划引进2-3名博士研究生、10-15名硕士</tspan><tspan x="1877" dy="15.6">研究生，重点培养在职骨干和本土人才，并给</tspan><tspan x="1877" dy="15.6">予政策倾斜和绩效奖励，以留住人才。</tspan></text></g>
<g id="l1-6"><rect class="bx" x="1711" y="2089.5" width="132" height="27" rx="6"/><text class="t c1" x="1718" y="2107.5">6.加强法治制度建设。</text></g>
<g id="k6"><rect class="bx" x="1870" y="2050.5" width="255" height="105" rx="6"/><text class="t c1"><tspan x="1877" y="2068.5">医院在综治维稳工作中，要坚持以"以创建平</tspan><tspan x="1877" dy="15.6">安社会，构建和谐医院"为主题，把综合治理</tspan><tspan x="1877" dy="15.6">工作作为维护稳定确保医院一方平安的'政治</tspan><tspan x="1877" dy="15.6">任务来抓好、抓实，强化综此刻和维稳工作的</tspan><tspan x="1877" dy="15.6">管理，落实医疗安全法制教育，加强各项医疗</tspan><tspan x="1877" dy="15.6">纠纷防范措施管理，构建和谐医院。</tspan></text></g>

<g id="m0"><rect class="bx" x="1711" y="2426.1" width="255" height="151.8" rx="6"/><text class="t c3"><tspan x="1718" y="2444.1">20xx年，为巩固我院爱婴医院创建成果，使</tspan><tspan x="1718" dy="15.6">爱婴医院管理各项制度措施执行到位。我院继</tspan><tspan x="1718" dy="15.6">续全面贯彻实施《_母婴保健法实施办法》、</tspan><tspan x="1718" dy="15.6">《重庆市儿童发展纲要》、《重庆市妇女发展</tspan><tspan x="1718" dy="15.6">纲要》确定的促进母婴哺养目标。围绕长效管</tspan><tspan x="1718" dy="15.6">理，可持续保护、促进和支持母乳喂养，提高</tspan><tspan x="1718" dy="15.6">母乳喂养率，以降低婴儿发病率和死亡率，推</tspan><tspan x="1718" dy="15.6">动爱婴医院进一步建设和发展，特制定爱婴医</tspan><tspan x="1718" dy="15.6">院工作计划：</tspan></text></g>
<g id="l3-1"><rect class="bx" x="1994" y="2229.5" width="146" height="27" rx="6"/><text class="t c3" x="2001" y="2247.5">一、完善创爱的组织机构</text></g>
<g id="l3-2"><rect class="bx" x="1994" y="2457.5" width="146" height="27" rx="6"/><text class="t c3" x="2001" y="2475.5">二、重点培训，确保质量</text></g>
<g id="l3-3"><rect class="bx" x="1994" y="2746.5" width="230" height="27" rx="6"/><text class="t c3" x="2001" y="2764.5">三、加强产儿科感染管理，确保母婴安全</text></g>
<g id="m1"><rect class="bx" x="2168" y="2182.7" width="255" height="120.6" rx="6"/><text class="t c3"><tspan x="2175" y="2200.7">巩固爱婴医院成果是一项永久的'艰苦工程，</tspan><tspan x="2175" dy="15.6">为了避免"创爱"后思想松懈，工作下滑，扎实</tspan><tspan x="2175" dy="15.6">有效的开展工作，继续设立以邱凤院长为组长</tspan><tspan x="2175" dy="15.6">的巩固爱婴医院领导小组，把爱婴行动的工作</tspan><tspan x="2175" dy="15.6">列为全院工作的管理目标，加强督导与考核，</tspan><tspan x="2175" dy="15.6">形成长效管理机制，使爱婴医院工作得到可持</tspan><tspan x="2175" dy="15.6">续性发展。</tspan></text></g>
<g id="m2a"><rect class="bx" x="2168" y="2329.9" width="255" height="58.2" rx="6"/><text class="t c3"><tspan x="2175" y="2347.9">1、为了确保巩固爱婴医院成果，要加强对医</tspan><tspan x="2175" dy="15.6">护人员的强化培训和复训工作，使标准一致，</tspan><tspan x="2175" dy="15.6">认识一致，目标一致，质量一致效果一致。</tspan></text></g>
<g id="m2b"><rect class="bx" x="2168" y="2413.7" width="255" height="42.6" rx="6"/><text class="t c3"><tspan x="2175" y="2431.7">2、对新上岗人员进行操作指导并在半年内进</tspan><tspan x="2175" dy="15.6">行爱婴医院知识培训，考核合格后方可上岗。</tspan></text></g>
<g id="m2c"><rect class="bx" x="2168" y="2483.9" width="255" height="58.2" rx="6"/><text class="t c3"><tspan x="2175" y="2501.9">3、对原在岗人员进行复训，并与三基考核相</tspan><tspan x="2175" dy="15.6">结合，进行一次理论考核，不合格立即进行强</tspan><tspan x="2175" dy="15.6">化培训。</tspan></text></g>
<g id="m2d"><rect class="bx" x="2168" y="2568.5" width="192" height="27" rx="6"/><text class="t c3" x="2175" y="2586.5">4、具体培训计划如下：详见附页</text></g>
<g id="m3a"><rect class="bx" x="2253" y="2622.7" width="255" height="42.6" rx="6"/><text class="t c3"><tspan x="2260" y="2640.7">1、设置感染管理小组，在院感科的领导下，</tspan><tspan x="2260" dy="15.6">负责科室内院感工作。</tspan></text></g>
<g id="m3b"><rect class="bx" x="2253" y="2692.1" width="255" height="73.8" rx="6"/><text class="t c3"><tspan x="2260" y="2710.1">2、设置产房和隔离产房并实行严格的消毒隔</tspan><tspan x="2260" dy="15.6">离制度，严格控制入房人数，对隔离孕妇按隔</tspan><tspan x="2260" dy="15.6">离技术规程进行接生和护理，接生完毕后按要</tspan><tspan x="2260" dy="15.6">求对产房进行擦拭和消毒。</tspan></text></g>
<g id="m3c"><rect class="bx" x="2253" y="2793.5" width="240" height="27" rx="6"/><text class="t c3" x="2260" y="2811.5">3、新生儿恒温箱按规程进行消毒和管理。</text></g>
<g id="m3d"><rect class="bx" x="2253" y="2846.9" width="255" height="58.2" rx="6"/><text class="t c3"><tspan x="2260" y="2864.9">4、对婴儿淋浴用具做到一用一消毒，并使用</tspan><tspan x="2260" dy="15.6">一次性用品，淋浴完毕，进行紫外线空气消毒</tspan><tspan x="2260" dy="15.6">。</tspan></text></g>

<g id="q1"><rect class="bx" x="1711" y="2930.9" width="255" height="58.2" rx="6"/><text class="t c2"><tspan x="1718" y="2948.9">作为外科副主任的一年，本人在院长、科主任</tspan><tspan x="1718" dy="15.6">的正确领导下，认真履行副主任职责，辅助外</tspan><tspan x="1718" dy="15.6">科主任完成科室的各项工作。</tspan></text></g>
<g id="q2"><rect class="bx" x="1711" y="3016.5" width="188" height="27" rx="6"/><text class="t c2" x="1718" y="3034.5">一、全年外科完成手术2053例。</text></g>
<g id="q3"><rect class="bx" x="1711" y="3070.9" width="255" height="58.2" rx="6"/><text class="t c2"><tspan x="1718" y="3088.9">二、在省级三甲医院医生支持开展手术61台</tspan><tspan x="1718" dy="15.6">，提高了医生的技术水平，学习了新经验。为</tspan><tspan x="1718" dy="15.6">患者节省了人力物力资源。</tspan></text></g>
<g id="q4"><rect class="bx" x="1711" y="3155.5" width="204" height="27" rx="6"/><text class="t c2" x="1718" y="3173.5">三、为骨科手术引进了C型臂设备。</text></g>
<g id="q5"><rect class="bx" x="1711" y="3291.9" width="255" height="58.2" rx="6"/><text class="t c2"><tspan x="1718" y="3309.9">四、专科向高精尖发展，积极引进和运用新技</tspan><tspan x="1718" dy="15.6">术、新项目，20xx年加大了对腹腔镜胆囊切</tspan><tspan x="1718" dy="15.6">除手术的推广和运用，全年完成手术22例。</tspan></text></g>
<g id="q5a"><rect class="bx" x="1994" y="3209.7" width="255" height="120.6" rx="6"/><text class="t c2"><tspan x="2001" y="3227.7">一年来，通过全科同志的共同努力，较好地完</tspan><tspan x="2001" dy="15.6">成了科室各项工作任务，但工作标准和工作质</tspan><tspan x="2001" dy="15.6">量与领导的要求还有差距，思路还需要更加宽</tspan><tspan x="2001" dy="15.6">阔。在新的一年里，要加大业务学习力度，提</tspan><tspan x="2001" dy="15.6">高工作质量，团结一致，扎实工作，高标准完</tspan><tspan x="2001" dy="15.6">成本科的工作任务和院领导交办的各项工作任</tspan><tspan x="2001" dy="15.6">务。</tspan></text></g>
<g id="q5b"><rect class="bx" x="1994" y="3356.5" width="90" height="27" rx="6"/><text class="t c2" x="2001" y="3374.5">20xx年计划：</text></g>
<g id="q6"><rect class="bx" x="1711" y="3410.9" width="255" height="58.2" rx="6"/><text class="t c2"><tspan x="1718" y="3428.9">一、医疗技术和设备的.革新方面希望医院能</tspan><tspan x="1718" dy="15.6">给与大力支持，比如进显微外科器械。外科床</tspan><tspan x="1718" dy="15.6">头血糖检测。</tspan></text></g>
<g id="q7"><rect class="bx" x="1711" y="3495.7" width="255" height="42.6" rx="6"/><text class="t c2"><tspan x="1718" y="3513.7">二、加强医生专业知识的学习，加强病例讨论</tspan><tspan x="1718" dy="15.6">，是以后要注意抓的问题。</tspan></text></g>
<g id="q8"><rect class="bx" x="1711" y="3564.9" width="255" height="58.2" rx="6"/><text class="t c2"><tspan x="1718" y="3582.9">三、人才的培养情况：2012年拟派2人到省城</tspan><tspan x="1718" dy="15.6">三甲医院进修学习，同时努力做好继续教育工</tspan><tspan x="1718" dy="15.6">作，鼓励专业人员参加培训。</tspan></text></g>
<g id="q9"><rect class="bx" x="1711" y="3650.9" width="255" height="58.2" rx="6"/><text class="t c2"><tspan x="1718" y="3668.9">四、积极配合医院"争二甲"做好各项工作，开</tspan><tspan x="1718" dy="15.6">展卫生人员培训和适宜新技术、新项目的推广</tspan><tspan x="1718" dy="15.6">应用。</tspan></text></g>
</g>
</svg>
